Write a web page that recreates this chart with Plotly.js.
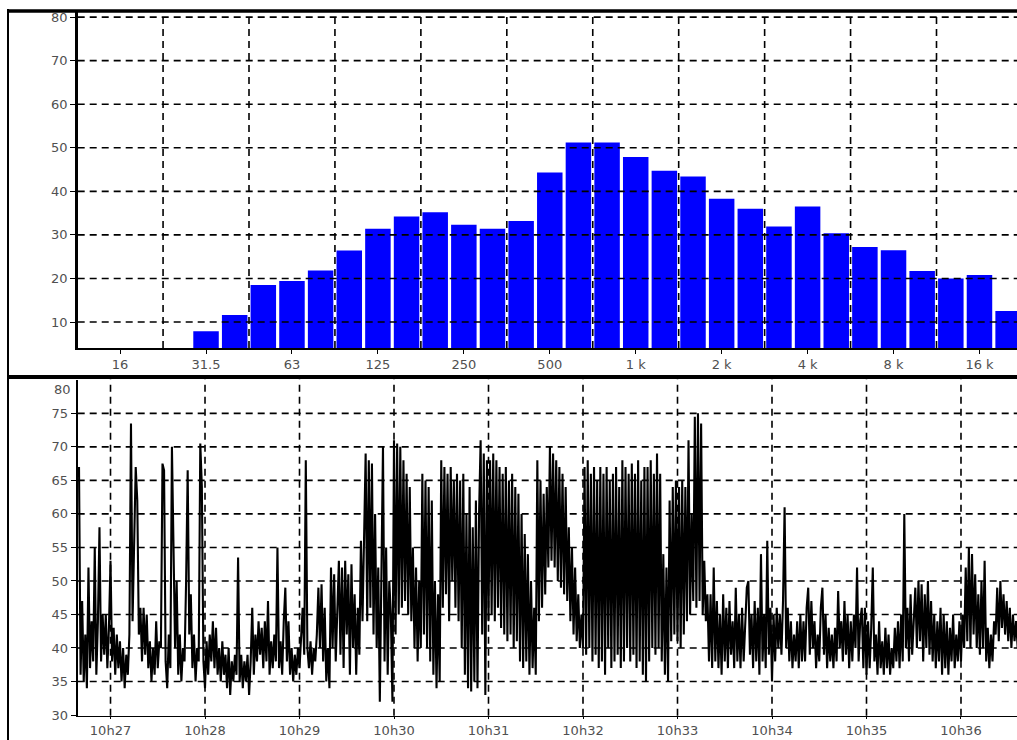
<!DOCTYPE html>
<html>
<head>
<meta charset="utf-8">
<script src="https://cdn.plot.ly/plotly-3.0.1.min.js"></script>
<style>html,body{margin:0;padding:0;background:#fff;}#chart{width:1017px;height:740px;}</style>
</head>
<body>
<div id="chart"></div>
<script>
// ---- Top panel: 1/3-octave spectrum ----
const bandLabels = ['16','20','25','31.5','40','50','63','80','100','125','160','200','250','315','400','500','630','800','1000','1250','1600','2000','2500','3150','4000','5000','6300','8000','10000','12500','16000','20000'];
const bandLevels = [null,null,null,7.9,11.6,18.5,19.4,21.8,26.4,31.4,34.2,35.2,32.3,31.4,33.2,44.3,51.2,51.2,47.9,44.7,43.4,38.3,36.0,31.9,36.5,30.4,27.2,26.5,21.7,20.0,20.8,12.5];
const octaveBands = ['16','31.5','63','125','250','500','1000','2000','4000','8000','16000'];
const octaveTickText = ['16','31.5','63','125','250','500','1 k','2 k','4 k','8 k','16 k'];
const spectrumYTicks = [10,20,30,40,50,60,70,80];

// ---- Bottom panel: level vs time (one reading per second from 10:26:40) ----
const timeStart = '10:26:40';
const timeStepSec = 1;
const levelValues = [
67,36,47,35,42,34,52,37,44,38,55,36,44,58,38,45,39,45,37,43,
53,38,43,36,42,37,41,35,40,34,39,36,42,73.5,44,58,67,62,42,46,
38,46,39,45,37,41,35,40,36,44,37,41,40,67.5,66.5,38,34,42,37,70,
51,40,50,36,42,35,40,38,50,66.5,42,48,37,42,35,40,38,70.5,64,38,
34,41,36,42,38,44,37,43,36,40,35,41,36,39,34,40,33,38,35,39,
36,53.5,35,39,34,38,35,39,33,38,46,36,42,38,44,39,43,37,44,38,
47,36,41,37,42,38,55,37,41,36,44,49,38,44,36,40,35,39,36,40,
37,41,46,39,68,40,37,41,36,40,38,42,49,40,49.5,38,46,35,40,34,
52,40,51,38,45,53,39,52,37,53,42,51,36,52.5,40,48,36,46,39,56,
44,55,69,44,68,46,67.5,42,60,40,52,32,48,70,38,55,36,50,45,32,
71,42,70.5,45,70,46,68,47,66,45,64,44,55,40,52,38,50,40,66,42,
65,40,64,38,62,36,50,34,48,35,68,46,67,48,66,44,67,50,65,46,
66,44,65,40,66,36,60,34,64,33.5,58,35,62,34,60,71,42,69,33,68,
44,68,45,69,44,68,46,67,43,66,42,67,41,65,42,66,40,64,41,63,
38,60,37,57,38,54,36,50,37,46,36,68,44,65,46,63,48,64,52,70,
53,69,52,68,50,67,49,66,48,64,47,58,44,55,42,52,41,48,40,45,
40,67,39,68,40,66,38,67,39,65,37,67,38,66,36,67,40,65,37,66,
38,67,39,64,37,68,38,67,40,66,38,67.5,39,66,37,68,38,65,36,67,
35,67,38,68,40,66,39,69,40,66,38,54,36,52,35,62,41,64,42,65,
41,64,40,65,42,64,44,71,45,60,47,74.5,46,75,47,73.5,45,53,44,48,
38,48,37,52,38,47,37,45,36,48,38,46,37,47,39,44,37,49,38,45,
37,46,38,44,49,50,39,45,37,47,38,46,36,54,38,45,37,56,39,46,
35,45,38,46,40,45,39,47,61,40,46,38,44,37,42,38,44,37,45,38,
44,38,46,49,39,47,40,44,37,42,38,46,49,39,45,37,43,38,42,37,
43,38,48.5,40,44,38,47,39,45,37,44,38,45,40,52,38,44,46,37,46,
36,44,37,43,52,38,42,36,44,37,41,36,43,37,42,36,40,37,43,38,
44,37,45,38,60,40,46,38,48,39,44,49,40,50,41,49.5,38,48,40,50,
39,47,38,45,37,44,38,46,36,45,37,44,36,43,38,45,37,42,38,44,
38,45,40,52,41,55,40,54,42,51,40,48,39,50,40,53,38,43,37,42,
38,44,42,49,41,50,43,48,42,47,41,46,40,45,41,44,40
];
const minuteTicks = ['10:27','10:28','10:29','10:30','10:31','10:32','10:33','10:34','10:35','10:36'];
const minuteTickText = ['10h27','10h28','10h29','10h30','10h31','10h32','10h33','10h34','10h35','10h36'];
const levelYTicks = [30,35,40,45,50,55,60,65,70,75];
const levelTopLabel = '80';

// ---- helpers ----
const DAY = '2000-01-01 ';
function toSec(hms){const p=hms.split(':').map(Number);return p[0]*3600+p[1]*60+(p[2]||0);}
function clock(sec){
  const h=Math.floor(sec/3600), m=Math.floor((sec%3600)/60), s=sec-h*3600-m*60;
  const pad=v=>(v<10?'0':'')+v.toFixed(Number.isInteger(v)?0:2);
  return DAY+pad(h)+':'+pad(m)+':'+pad(s);
}
const t0 = toSec(timeStart);
const levelTimes = levelValues.map((_, i) => clock(t0 + i*timeStepSec));

const W=1017, H=740;
const px = v => v/W, py = v => 1 - v/H;
const tickFont = {family:'DejaVu Sans, Arial, sans-serif', size:13, color:'#505050'};
const dash = {color:'#000', width:1.6, dash:'7px,5px'};

const shapes = [];
// top panel grid (band boundaries between octave labels, and level lines)
octaveBands.forEach(b => {
  const k = bandLabels.indexOf(b) + 1.5;
  if (k < bandLabels.length - 0.5) shapes.push({type:'line', xref:'x', yref:'y domain', x0:k, x1:k, y0:0, y1:1, line:dash, layer:'above'});
});
spectrumYTicks.forEach(v => shapes.push({type:'line', xref:'x domain', yref:'y', x0:0, x1:1, y0:v, y1:v, line:dash, layer:'above'}));
// bottom panel grid
minuteTicks.forEach(t => shapes.push({type:'line', xref:'x2', yref:'y2 domain', x0:DAY+t, x1:DAY+t, y0:0, y1:1, line:dash, layer:'above'}));
levelYTicks.filter(v => v > 30).forEach(v => shapes.push({type:'line', xref:'x2 domain', yref:'y2', x0:0, x1:1, y0:v, y1:v, line:dash, layer:'above'}));
// frame lines
shapes.push({type:'line', xref:'paper', yref:'paper', x0:px(7), x1:px(1017), y0:py(11), y1:py(11), line:{color:'#000', width:3.5}});
shapes.push({type:'line', xref:'paper', yref:'paper', x0:px(7), x1:px(1017), y0:py(377), y1:py(377), line:{color:'#000', width:4}});
shapes.push({type:'line', xref:'paper', yref:'paper', x0:px(8), x1:px(8), y0:py(9), y1:py(740), line:{color:'#000', width:2}});

const data = [
  {type:'bar', x:bandLabels, y:bandLevels, xaxis:'x', yaxis:'y', marker:{color:'#0000ff', line:{width:0}}, hoverinfo:'x+y'},
  {type:'scatter', mode:'lines', x:levelTimes, y:levelValues, xaxis:'x2', yaxis:'y2', line:{color:'#000', width:2.1}, hoverinfo:'x+y'}
];

const layout = {
  width:W, height:H,
  margin:{l:0, r:0, t:0, b:0},
  paper_bgcolor:'#fff', plot_bgcolor:'#fff',
  showlegend:false, bargap:0.11,
  xaxis:{
    domain:[px(77.7), 1], anchor:'y', type:'category', range:[-1.48, 31.31],
    tickmode:'array', tickvals:octaveBands, ticktext:octaveTickText,
    ticks:'outside', ticklen:4, tickwidth:1, tickcolor:'#000',
    showline:true, linecolor:'#000', linewidth:1.5, showgrid:false, zeroline:false,
    tickfont:tickFont
  },
  yaxis:{
    domain:[py(348), py(11)], anchor:'x', range:[4.03, 81.4],
    tickmode:'array', tickvals:spectrumYTicks,
    ticks:'outside', ticklen:5, tickwidth:1, tickcolor:'#000',
    showline:true, linecolor:'#000', linewidth:2.5, showgrid:false, zeroline:false,
    tickfont:tickFont
  },
  xaxis2:{
    domain:[px(77.7), 1], anchor:'y2', type:'date',
    range:[DAY+'10:26:39.17', DAY+'10:36:35.56'],
    tickmode:'array', tickvals:minuteTicks.map(t => DAY+t), ticktext:minuteTickText,
    ticks:'outside', ticklen:2, tickwidth:1, tickcolor:'#000',
    showline:true, linecolor:'#000', linewidth:1.5, showgrid:false, zeroline:false,
    tickfont:tickFont
  },
  yaxis2:{
    domain:[py(715.7), py(379.5)], anchor:'x2', range:[29.9, 80.05],
    tickmode:'array', tickvals:levelYTicks,
    ticks:'outside', ticklen:5, tickwidth:1, tickcolor:'#000',
    showline:true, linecolor:'#000', linewidth:2, showgrid:false, zeroline:false,
    tickfont:tickFont
  },
  shapes:shapes,
  annotations:[
    {xref:'paper', yref:'paper', x:px(73), y:py(390), xanchor:'right', yanchor:'middle', text:levelTopLabel, showarrow:false, font:tickFont}
  ]
};

Plotly.newPlot('chart', data, layout, {staticPlot:true, displayModeBar:false});
</script>
</body>
</html>
